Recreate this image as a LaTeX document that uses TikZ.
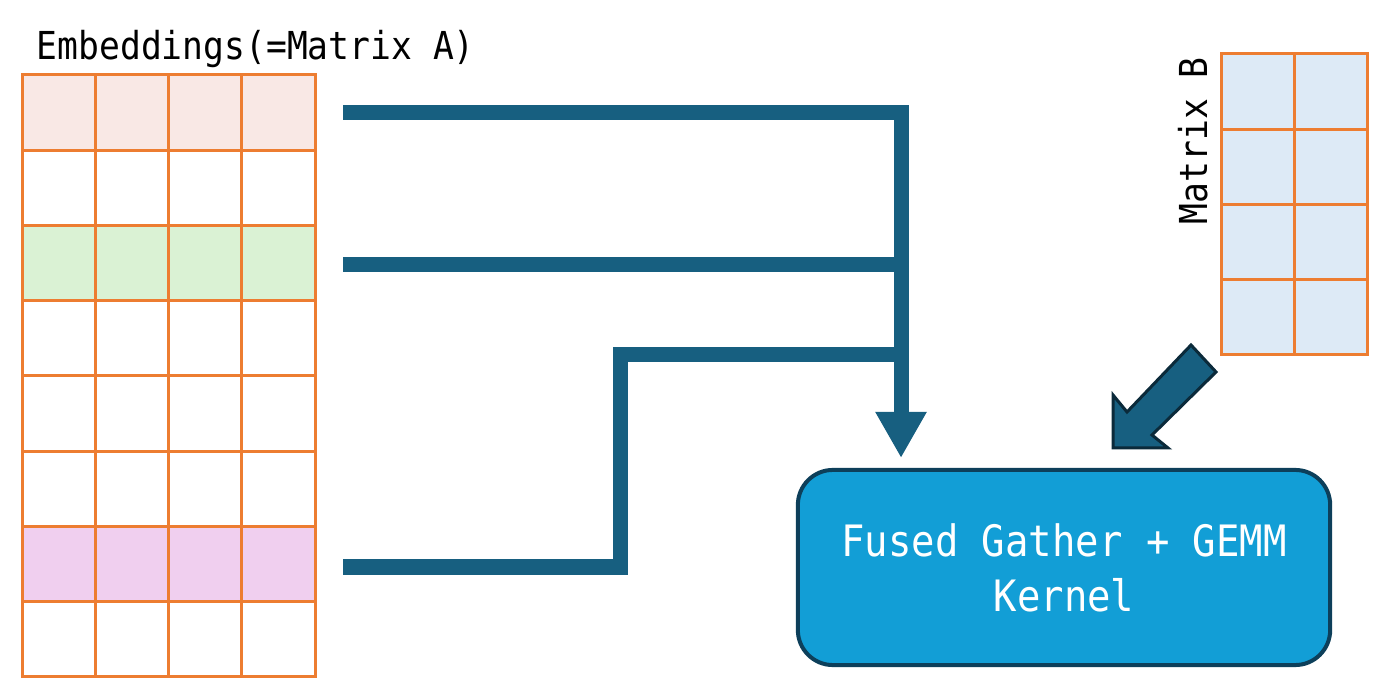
\documentclass[tikz,border=0pt]{standalone}
\usepackage{fontspec}
\newfontfamily\gathmono[FakeStretch=0.9]{DejaVu Sans Mono}
\usetikzlibrary{arrows.meta,positioning,calc}
\definecolor{gathblue}{HTML}{175F80}
\definecolor{gathdark}{HTML}{0B2A3A}
\definecolor{gridorange}{HTML}{ED7D31}
\definecolor{rowpink}{HTML}{F9E8E5}
\definecolor{rowgreen}{HTML}{DAF2D4}
\definecolor{rowviolet}{HTML}{F0CFEF}
\definecolor{matbfill}{HTML}{DDEAF6}
\definecolor{kernelfill}{HTML}{129ED6}
\definecolor{kerneledge}{HTML}{0D3F5A}
\tikzset{
  cell/.style={rectangle, draw=gridorange, line width=0.03cm, minimum width=0.73cm, minimum height=0.7525cm, inner sep=0pt, outer sep=0pt},
  label/.style={font=\gathmono\fontsize{10.95pt}{12pt}\selectfont, inner sep=0pt, text=black},
  kernelbox/.style={rectangle, rounded corners=0.35cm, draw=kerneledge, line width=0.04cm, fill=kernelfill, minimum width=5.32cm, minimum height=1.95cm, align=center, text=white, font=\gathmono\fontsize{12.3pt}{15.6pt}\selectfont},
  gather/.style={draw=gathblue, line width=0.15cm},
  gathertip/.style={-{Triangle[length=0.46cm, width=0.48cm]}},
  blockarrow/.style={fill=gathblue, draw=gathdark, line width=0.03cm, line join=miter},
}

\begin{document}
\begin{tikzpicture}[x=0.01cm, y=-0.01cm]
  \useasboundingbox (0,0) rectangle (1398,692);
  % matrix A (embeddings)
  \foreach \r/\f in {0/rowpink,1/white,2/rowgreen,3/white,4/white,5/white,6/rowviolet,7/white}{
    \foreach \c in {0,...,3}{
      \node[cell, fill=\f] (a-\r-\c) at ({59.5+73*\c},{112.6+75.25*\r}) {};
    }
  }
  \node[label, anchor=base west] (titleA) at (36,60) {Embeddings(=Matrix A)};
  % matrix B
  \foreach \r in {0,...,3}{
    \foreach \c in {0,1}{
      \node[cell, fill=matbfill] (b-\r-\c) at ({1257.5+73*\c},{91.6+75.25*\r}) {};
    }
  }
  \node[label, anchor=base west, rotate=90] (titleB) at (1207,225) {Matrix B};
  % kernel
  \node[kernelbox] (kernel) at (1064,567.5) {Fused Gather + GEMM\\Kernel};
  % gathered rows
  \coordinate (src1) at (343,113);
  \coordinate (src2) at (343,265);
  \coordinate (src3) at (343,567);
  \coordinate (mid3) at (620,355);
  \coordinate (tip) at (901,458);
  \draw[gather, gathertip] (src1) -| (tip);
  \draw[gather] (src2) -- (src2 -| tip);
  \draw[gather] (src3) -| (mid3) -- (mid3 -| tip);
  % matrix B into kernel
  \draw[blockarrow] (1191,345) -- (1216,372) -- (1152,435) -- (1168,448)
    -- (1113,448) -- (1113,395) -- (1127,412) -- cycle;
\end{tikzpicture}
\end{document}
